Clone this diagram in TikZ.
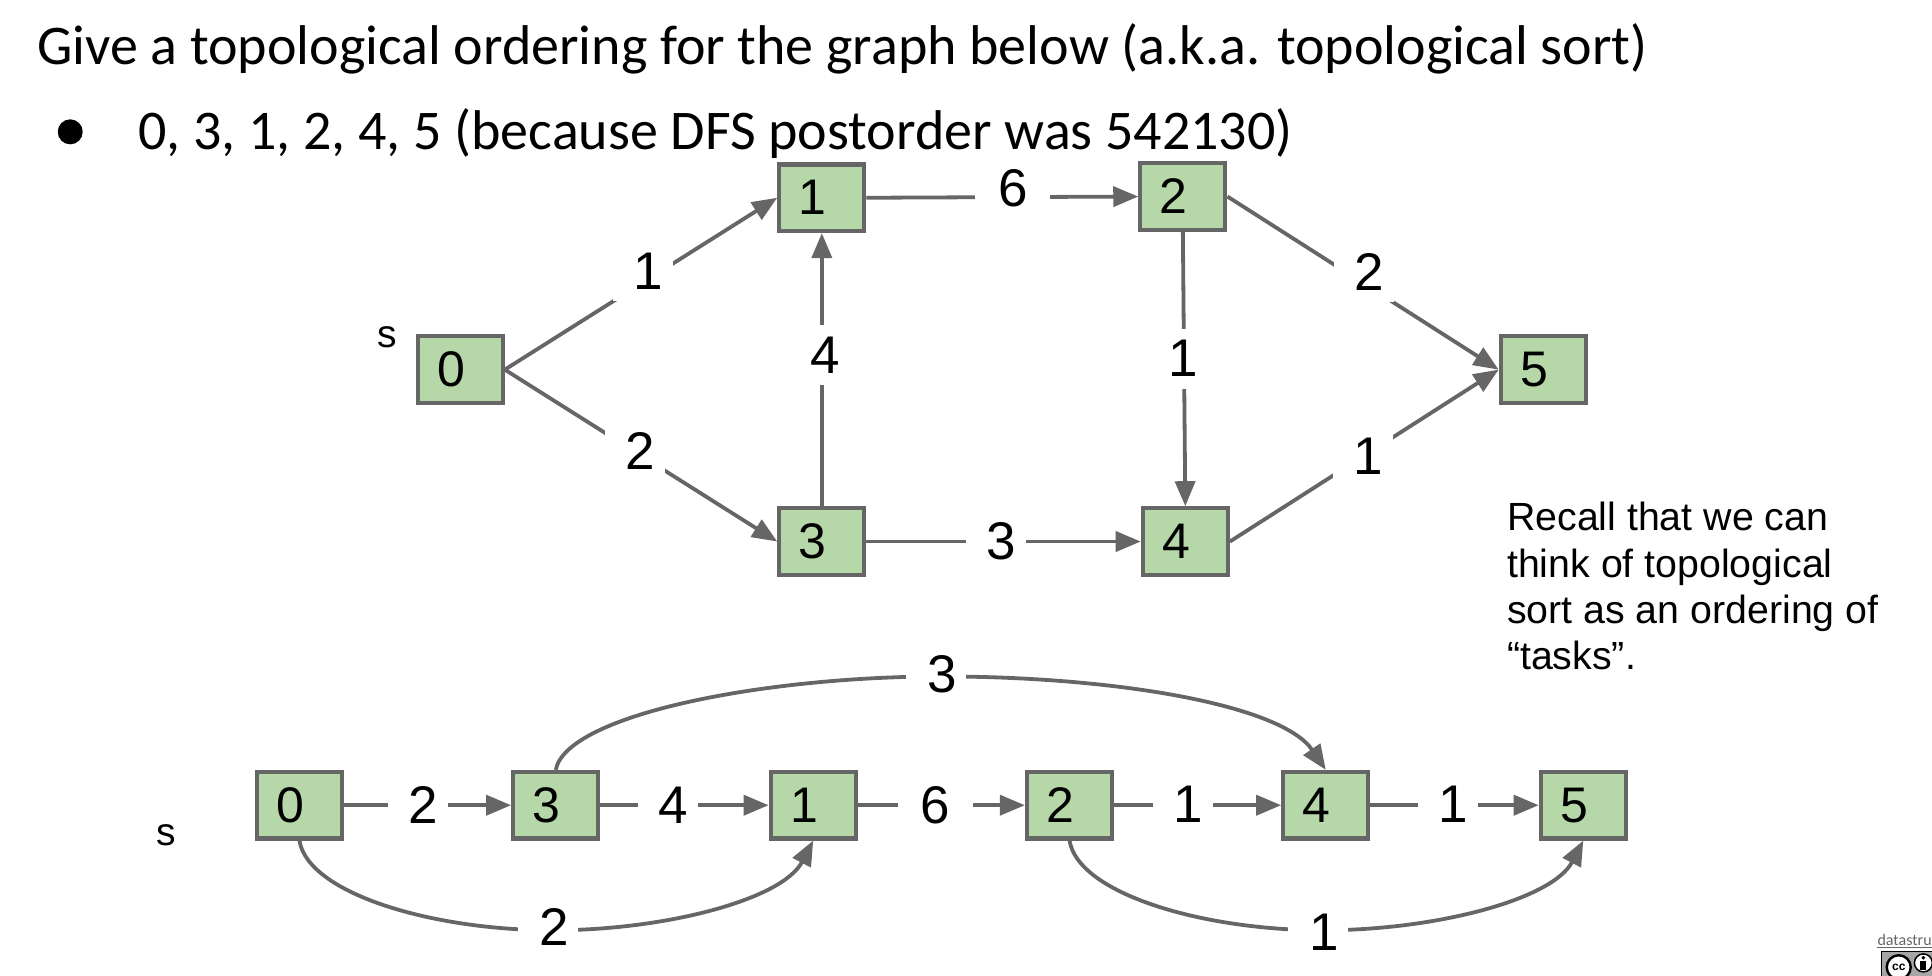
\documentclass[tikz,border=0pt]{standalone}
\usepackage{fontspec}
\setmainfont{Carlito}
\newfontfamily\arial{Liberation Sans}
\usetikzlibrary{arrows.meta}
\definecolor{edgegrey}{HTML}{666666}
\definecolor{boxgreen}{HTML}{B6D7A8}
\tikzset{
  vbox/.style={draw=edgegrey,fill=boxgreen,line width=4.2pt,minimum width=85pt,minimum height=66.5pt,inner sep=0pt,font=\arial\fontsize{50}{54}\selectfont},
  lbl/.style={fill=white,inner sep=0pt,minimum width=60pt,minimum height=60pt,font=\arial\fontsize{53}{56}\selectfont},
  conn/.style={draw=edgegrey,line width=3.8pt,-{Triangle[length=25pt,width=20pt]}},
  slidetext/.style={anchor=base west,inner sep=0pt,font=\fontsize{56}{64}\selectfont},
  note/.style={anchor=base west,inner sep=0pt,font=\arial\fontsize{39.3}{45}\selectfont},
  mark s/.style={inner sep=0pt,font=\arial\fontsize{39}{45}\selectfont},
}
\newcommand{\dg}[1]{\raisebox{-1.2pt}{#1}\hspace*{18pt}}
\newcommand{\lb}[1]{\hspace*{11pt}#1}
\begin{document}
\begin{tikzpicture}[x=1.2321pt,y=-1.2321pt]
\useasboundingbox (0,0) rectangle (1568,792);
\clip (0,0) rectangle (1568,792);
\node[slidetext] (title) at (30,52.5) {Give a topological ordering for the graph below (a.k.a. topological sort)};
\node[circle,fill=black,inner sep=0pt,minimum size=25pt] (bullet) at (57,107) {};
\node[slidetext] (answer) at (112,121.5) {0, 3, 1, 2, 4, 5 (because DFS postorder was 542130)};
% top graph
\node[vbox] (a0) at (373.5,300) {\dg{0}};
\node[vbox] (a1) at (667,160.5) {\dg{1}};
\node[vbox] (a2) at (960,159.5) {\dg{2}};
\node[vbox] (a3) at (667,439.5) {\dg{3}};
\node[vbox] (a4) at (962,439.5) {\dg{4}};
\node[vbox] (a5) at (1252.5,300) {\dg{5}};
\node[mark s] (sa) at (314,274) {s};
\draw[conn] (a0.east) -- (a1.west);
\draw[conn] (a0.east) -- (a3.west);
\draw[conn] (a3.north) -- (a1.south);
\draw[conn] (a1.east) -- (a2.west);
\draw[conn] (a3.east) -- (a4.west);
\draw[conn] (a2.south) -- (a4.north);
\draw[conn] (a2.east) -- (a5.west);
\draw[conn] (a4.east) -- (a5.west);
\node[lbl] (l01) at (522,220) {\lb{1}};
\node[lbl] (l03) at (515,366) {\lb{2}};
\node[lbl] (l31) at (665,288) {\lb{4}};
\node[lbl,minimum width=75pt] (l12) at (822,153) {6};
\node[lbl] (l34) at (808,439) {\lb{3}};
\node[lbl] (l24) at (956,291) {\lb{1}};
\node[lbl] (l25) at (1107,221) {\lb{2}};
\node[lbl] (l45) at (1106,370) {\lb{1}};
% bottom chain
\node[vbox] (b0) at (243,653.5) {\dg{0}};
\node[vbox] (b3) at (451,653.5) {\dg{3}};
\node[vbox] (b1) at (660,653.5) {\dg{1}};
\node[vbox] (b2) at (868,653.5) {\dg{2}};
\node[vbox] (b4) at (1076,653.5) {\dg{4}};
\node[vbox] (b5) at (1285,653.5) {\dg{5}};
\node[mark s] (sb) at (135,678) {s};
\draw[conn] (b0.east) -- (b3.west);
\draw[conn] (b3.east) -- (b1.west);
\draw[conn] (b1.east) -- (b2.west);
\draw[conn] (b2.east) -- (b4.west);
\draw[conn] (b4.east) -- (b5.west);
\coordinate (c34) at (764,549);
\coordinate (c01) at (449,755);
\coordinate (c25) at (1074,755);
\draw[conn] (b3.north) .. controls (460,580) and (620,549) .. (c34) .. controls (905,549) and (1040,572) .. (b4.north);
\draw[conn] (b0.south) .. controls (250,725) and (350,755) .. (c01) .. controls (540,755) and (635,730) .. (b1.south);
\draw[conn] (b2.south) .. controls (875,725) and (975,755) .. (c25) .. controls (1165,755) and (1260,730) .. (b5.south);
\node[lbl] (m03) at (339,653.5) {\lb{2}};
\node[lbl] (m31) at (542,653.5) {\lb{4}};
\node[lbl,minimum width=75pt] (m12) at (759,653.5) {6};
\node[lbl] (m24) at (960,653) {\lb{1}};
\node[lbl] (m45) at (1175,653) {\lb{1}};
\node[lbl] (m34) at (760,547) {\lb{3}};
\node[lbl] (m01) at (445,752) {\lb{2}};
\node[lbl] (m25) at (1070,757) {\lb{1}};
% note
\node[note] (n1) at (1223,430.5) {Recall that we can};
\node[note] (n2) at (1223,468.5) {think of topological};
\node[note] (n3) at (1223,506) {sort as an ordering of};
\node[note] (n4) at (1223,543.5) {“tasks”.};
% credit
\node[anchor=base west,inner sep=0pt,text=edgegrey,font=\fontsize{16}{18}\selectfont] (credit) at (1523.6,767) {datastru};
\draw[edgegrey,line width=1pt] (credit.base west)++(0,1.8) -- ++(50,0);
\node[anchor=north west,draw=black,fill=gray!70,line width=.8pt,minimum width=70pt,minimum height=40pt,inner sep=0pt] (badge) at (1526.5,772) {};
\node[circle,draw=black,fill=white,line width=2.4pt,minimum size=24pt,inner sep=0pt,font=\arial\bfseries\fontsize{12}{12}\selectfont] (cc) at (1541,785) {cc};
\node[circle,draw=black,fill=white,line width=1.5pt,minimum size=18pt,inner sep=0pt] (by) at (1561,781.5) {};
\fill[black] (1561,777.3) circle (1.6);
\fill[black] (1558.6,779.6) rectangle (1563.4,787);
\end{tikzpicture}
\end{document}
